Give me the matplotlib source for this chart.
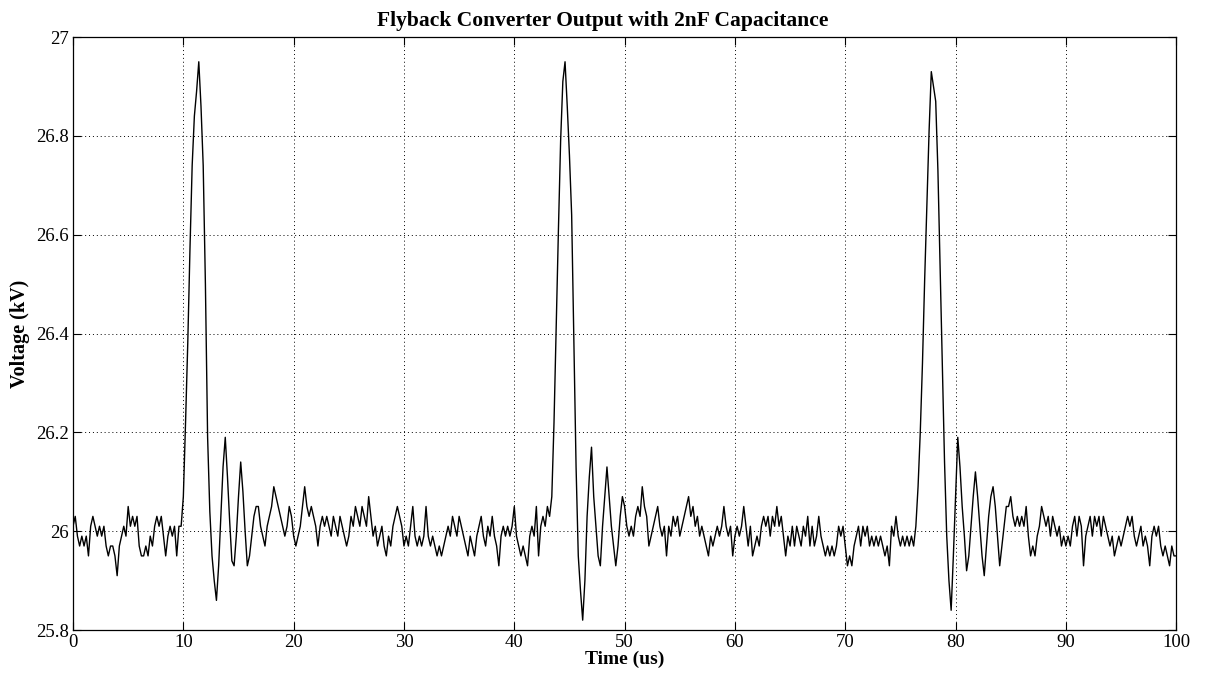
import numpy as np
import matplotlib
matplotlib.use("Agg")
import matplotlib.pyplot as plt

# Sample times (us), one sample every 0.2 us
time_us = np.linspace(0, 100, 501)

# Output voltage (kV), 10 samples (2 us) per row
voltage_kv = [
    26.01, 26.03, 25.99, 25.97, 25.99, 25.97, 25.99, 25.95, 26.01, 26.03,  # 0
    26.01, 25.99, 26.01, 25.99, 26.01, 25.97, 25.95, 25.97, 25.97, 25.95,  # 2
    25.91, 25.97, 25.99, 26.01, 25.99, 26.05, 26.01, 26.03, 26.01, 26.03,  # 4
    25.97, 25.95, 25.95, 25.97, 25.95, 25.99, 25.97, 26.01, 26.03, 26.01,  # 6
    26.03, 25.99, 25.95, 25.99, 26.01, 25.99, 26.01, 25.95, 26.01, 26.01,  # 8
    26.07, 26.22, 26.38, 26.57, 26.74, 26.84, 26.89, 26.95, 26.86, 26.74,  # 10
    26.50, 26.19, 26.04, 25.95, 25.90, 25.86, 25.93, 26.03, 26.13, 26.19,  # 12
    26.11, 26.02, 25.94, 25.93, 25.99, 26.07, 26.14, 26.08, 26.00, 25.93,  # 14
    25.95, 25.99, 26.03, 26.05, 26.05, 26.01, 25.99, 25.97, 26.01, 26.03,  # 16
    26.05, 26.09, 26.07, 26.05, 26.03, 26.01, 25.99, 26.01, 26.05, 26.03,  # 18
    25.99, 25.97, 25.99, 26.01, 26.05, 26.09, 26.05, 26.03, 26.05, 26.03,  # 20
    26.01, 25.97, 26.01, 26.03, 26.01, 26.03, 26.01, 25.99, 26.03, 26.01,  # 22
    25.99, 26.03, 26.01, 25.99, 25.97, 25.99, 26.03, 26.01, 26.05, 26.03,  # 24
    26.01, 26.05, 26.03, 26.01, 26.07, 26.03, 25.99, 26.01, 25.97, 25.99,  # 26
    26.01, 25.97, 25.95, 25.99, 25.97, 26.01, 26.03, 26.05, 26.03, 26.01,  # 28
    25.97, 25.99, 25.97, 26.01, 26.05, 25.99, 25.97, 25.99, 25.97, 25.99,  # 30
    26.05, 25.99, 25.97, 25.99, 25.97, 25.95, 25.97, 25.95, 25.97, 25.99,  # 32
    26.01, 25.99, 26.03, 26.01, 25.99, 26.03, 26.01, 25.99, 25.97, 25.95,  # 34
    25.99, 25.97, 25.95, 25.99, 26.01, 26.03, 25.99, 25.97, 26.01, 25.99,  # 36
    26.03, 25.99, 25.97, 25.93, 25.99, 26.01, 25.99, 26.01, 25.99, 26.01,  # 38
    26.05, 25.99, 25.97, 25.95, 25.97, 25.95, 25.93, 25.99, 26.01, 25.99,  # 40
    26.05, 25.95, 26.01, 26.03, 26.01, 26.05, 26.03, 26.07, 26.22, 26.42,  # 42
    26.61, 26.79, 26.91, 26.95, 26.86, 26.76, 26.64, 26.38, 26.13, 25.95,  # 44
    25.88, 25.82, 25.90, 26.03, 26.11, 26.17, 26.07, 26.01, 25.95, 25.93,  # 46
    26.01, 26.07, 26.13, 26.07, 26.01, 25.97, 25.93, 25.97, 26.03, 26.07,  # 48
    26.05, 26.01, 25.99, 26.01, 25.99, 26.03, 26.05, 26.03, 26.09, 26.05,  # 50
    26.03, 25.97, 25.99, 26.01, 26.03, 26.05, 26.01, 25.99, 26.01, 25.95,  # 52
    26.01, 25.99, 26.03, 26.01, 26.03, 25.99, 26.01, 26.03, 26.05, 26.07,  # 54
    26.03, 26.05, 26.01, 26.03, 25.99, 26.01, 25.99, 25.97, 25.95, 25.99,  # 56
    25.97, 25.99, 26.01, 25.99, 26.01, 26.05, 26.01, 25.99, 26.01, 25.95,  # 58
    25.99, 26.01, 25.99, 26.01, 26.05, 26.01, 25.97, 26.01, 25.95, 25.97,  # 60
    25.99, 25.97, 26.01, 26.03, 26.01, 26.03, 25.99, 26.03, 26.01, 26.05,  # 62
    26.01, 26.03, 25.99, 25.95, 25.99, 25.97, 26.01, 25.97, 26.01, 25.99,  # 64
    25.97, 26.01, 25.99, 26.03, 25.97, 26.01, 25.97, 25.99, 26.03, 25.99,  # 66
    25.97, 25.95, 25.97, 25.95, 25.97, 25.95, 25.97, 26.01, 25.99, 26.01,  # 68
    25.97, 25.93, 25.95, 25.93, 25.97, 25.99, 26.01, 25.97, 26.01, 25.99,  # 70
    26.01, 25.97, 25.99, 25.97, 25.99, 25.97, 25.99, 25.97, 25.95, 25.97,  # 72
    25.93, 26.01, 25.99, 26.03, 25.99, 25.97, 25.99, 25.97, 25.99, 25.97,  # 74
    25.99, 25.97, 26.01, 26.09, 26.20, 26.34, 26.51, 26.66, 26.81, 26.93,  # 76
    26.90, 26.87, 26.73, 26.53, 26.34, 26.14, 25.99, 25.90, 25.84, 25.95,  # 78
    26.07, 26.19, 26.13, 26.05, 25.99, 25.92, 25.95, 26.01, 26.07, 26.12,  # 80
    26.07, 26.01, 25.95, 25.91, 25.97, 26.03, 26.07, 26.09, 26.05, 25.99,  # 82
    25.93, 25.97, 26.01, 26.05, 26.05, 26.07, 26.03, 26.01, 26.03, 26.01,  # 84
    26.03, 26.01, 26.05, 25.99, 25.95, 25.97, 25.95, 25.99, 26.01, 26.05,  # 86
    26.03, 26.01, 26.03, 25.99, 26.03, 26.01, 25.99, 26.01, 25.97, 25.99,  # 88
    25.97, 25.99, 25.97, 26.01, 26.03, 25.99, 26.03, 26.01, 25.93, 25.99,  # 90
    26.01, 26.03, 25.99, 26.03, 26.01, 26.03, 25.99, 26.03, 26.01, 25.99,  # 92
    25.97, 25.99, 25.95, 25.97, 25.99, 25.97, 25.99, 26.01, 26.03, 26.01,  # 94
    26.03, 25.99, 25.97, 25.99, 26.01, 25.97, 25.99, 25.97, 25.93, 25.99,  # 96
    26.01, 25.99, 26.01, 25.97, 25.95, 25.97, 25.95, 25.93, 25.97, 25.95,  # 98
    25.95,                                                                 # 100
]

x_ticks = [0, 10, 20, 30, 40, 50, 60, 70, 80, 90, 100]
y_ticks = [25.8, 26.0, 26.2, 26.4, 26.6, 26.8, 27.0]
y_tick_labels = ["25.8", "26", "26.2", "26.4", "26.6", "26.8", "27"]

plt.rcParams["font.family"] = ["Liberation Serif", "DejaVu Serif"]

fig = plt.figure(figsize=(12.05, 6.8), dpi=100)
ax = fig.add_axes([0.0606, 0.0735, 0.9155, 0.872])

ax.plot(time_us, voltage_kv, color="black", linewidth=1.0)

ax.set_xlim(0, 100)
ax.set_ylim(25.8, 27)
ax.set_xticks(x_ticks)
ax.set_yticks(y_ticks)
ax.set_yticklabels(y_tick_labels)
ax.tick_params(direction="in", top=True, right=True, length=6, width=0.8,
               labelsize=13.5, pad=3)
ax.grid(True, color="black", linestyle=(0, (1, 3)), linewidth=0.7)
for side in ax.spines.values():
    side.set_linewidth(0.9)

# title sits a little left of the axes centre, as in the original
ax.set_title("Flyback Converter Output with 2nF Capacitance",
             fontsize=15.5, fontweight="bold", pad=8, x=0.48)
ax.set_xlabel("Time (us)", fontsize=14, fontweight="bold", labelpad=0)
ax.set_ylabel("Voltage (kV)", fontsize=14.5, fontweight="bold", labelpad=4)

fig.savefig("out.png", dpi=100)
